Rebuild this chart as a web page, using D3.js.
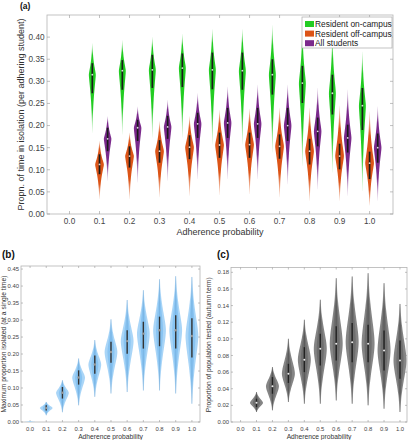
<!DOCTYPE html>
<html><head><meta charset="utf-8">
<script src="https://cdn.jsdelivr.net/npm/d3@7/dist/d3.min.js"></script>
<style>
body{margin:0;background:#fff}
svg{display:block}
text{font-family:"Liberation Sans",Arial,Helvetica,sans-serif}
</style>
</head><body>
<svg id="chart" width="410" height="440"></svg>
<script>
// ---------- DATA ----------
const adherence = [0.1,0.2,0.3,0.4,0.5,0.6,0.7,0.8,0.9,1.0];
const xTickValues = [0,0.1,0.2,0.3,0.4,0.5,0.6,0.7,0.8,0.9,1.0];
const yTicksA = [0,0.05,0.10,0.15,0.20,0.25,0.30,0.35,0.40];
const yTicksB = [0,0.05,0.10,0.15,0.20,0.25,0.30,0.35,0.40,0.45];
const yTicksC = [0,0.02,0.04,0.06,0.08,0.10,0.12,0.14,0.16,0.18];
const seriesNamesA = ["Resident on-campus","Resident off-campus","All students"];

// (a) Resident on-campus
const onMin = [0.184,0.180,0.173,0.173,0.157,0.157,0.139,0.109,0.094,0.052];
const onQ1  = [0.273,0.281,0.285,0.287,0.282,0.281,0.270,0.251,0.225,0.190];
const onMed = [0.315,0.324,0.326,0.330,0.326,0.324,0.315,0.296,0.273,0.245];
const onQ3  = [0.341,0.348,0.360,0.363,0.365,0.365,0.350,0.335,0.315,0.285];
const onMax = [0.386,0.393,0.400,0.407,0.418,0.418,0.427,0.418,0.405,0.367];
// (a) Resident off-campus
const offMin = [0.034,0.034,0.038,0.041,0.043,0.045,0.038,0.030,0.030,0.019];
const offQ1  = [0.090,0.105,0.116,0.124,0.127,0.127,0.125,0.112,0.101,0.079];
const offMed = [0.112,0.131,0.142,0.151,0.156,0.157,0.153,0.142,0.131,0.115];
const offQ3  = [0.135,0.153,0.167,0.178,0.184,0.184,0.180,0.170,0.159,0.141];
const offMax = [0.165,0.184,0.210,0.221,0.235,0.238,0.240,0.240,0.245,0.232];
// (a) All students
const allMin = [0.075,0.071,0.075,0.079,0.079,0.079,0.067,0.056,0.041,0.030];
const allQ1  = [0.142,0.165,0.170,0.172,0.172,0.172,0.165,0.153,0.139,0.116];
const allMed = [0.170,0.195,0.197,0.204,0.206,0.204,0.200,0.187,0.172,0.150];
const allQ3  = [0.195,0.213,0.222,0.229,0.240,0.240,0.240,0.218,0.202,0.182];
const allMax = [0.221,0.243,0.258,0.273,0.288,0.292,0.292,0.285,0.281,0.243];

// (b) Maximum proportion isolated (adherence 0.0 .. 1.0)
const adherenceB = [0.0,0.1,0.2,0.3,0.4,0.5,0.6,0.7,0.8,0.9,1.0];
const maxIsoMin = [0.000,0.020,0.029,0.049,0.074,0.084,0.088,0.093,0.093,0.084,0.054];
const maxIsoQ1  = [0.000,0.034,0.069,0.110,0.142,0.174,0.201,0.216,0.223,0.216,0.190];
const maxIsoMed = [0.001,0.041,0.086,0.131,0.169,0.206,0.238,0.260,0.270,0.270,0.253];
const maxIsoQ3  = [0.002,0.049,0.103,0.152,0.196,0.236,0.270,0.295,0.310,0.314,0.305];
const maxIsoMax = [0.003,0.059,0.123,0.187,0.241,0.302,0.359,0.388,0.420,0.429,0.427];

// (c) Proportion of population tested
const testMin = [0.012,0.014,0.024,0.022,0.022,0.026,0.022,0.020,0.016,0.012];
const testQ1  = [0.018,0.034,0.047,0.060,0.068,0.074,0.072,0.072,0.062,0.052];
const testMed = [0.023,0.043,0.058,0.075,0.088,0.094,0.096,0.094,0.086,0.074];
const testQ3  = [0.028,0.054,0.070,0.090,0.106,0.115,0.119,0.117,0.110,0.098];
const testMax = [0.036,0.066,0.100,0.123,0.147,0.173,0.175,0.179,0.167,0.142];

// ---------- DRAWING ----------
const svg = d3.select("#chart");
const defs = svg.append("defs");
let gradId = 0;

function fadeGradient(color, lo, q1, q3, hi, endOp){
  const id = "g" + (gradId++);
  const span = hi - lo || 1;
  const fTop = Math.max(0.02, (hi - q3) / span * 0.6);
  const fBot = Math.min(0.98, 1 - (q1 - lo) / span * 0.6);
  const g = defs.append("linearGradient").attr("id", id)
    .attr("x1",0).attr("y1",0).attr("x2",0).attr("y2",1);
  [[0,endOp],[fTop,1],[fBot,1],[1,endOp]].forEach(([o,op]) =>
    g.append("stop").attr("offset",o).attr("stop-color",color).attr("stop-opacity",op));
  return "url(#" + id + ")";
}

// width profile of a violin between its extremes, peaking at the median
function violinProfile(lo, med, hi, power, k){
  const n = 60, pts = [];
  const sL = Math.max(1e-6,(med-lo)/2.3), sH = Math.max(1e-6,(hi-med)/2.3);
  for(let i=0;i<=n;i++){
    const v = lo + (hi-lo)*i/n;
    const s = v < med ? sL : sH;
    const z = Math.abs((v-med)/s);
    pts.push([v, Math.exp(-k*Math.pow(z,power))]);
  }
  return pts;
}

function drawViolin(g, x, y, cx, lo, q1, med, q3, hi, W, fill, opt){
  const prof = violinProfile(lo, med, hi, opt.power || 2, opt.k || 0.5);
  const area = d3.area().curve(d3.curveBasis)
    .y(d => y(d[0])).x0(d => cx - W*d[1]).x1(d => cx + W*d[1]);
  g.append("path").attr("d", area(prof)).attr("fill", fill);
  if(opt.inner){
    const area2 = d3.area().curve(d3.curveBasis)
      .y(d => y(d[0])).x0(d => cx - W*opt.innerScale*d[1]).x1(d => cx + W*opt.innerScale*d[1]);
    g.append("path").attr("d", area2(prof)).attr("fill", opt.inner);
  }
  if(opt.whisker){
    g.append("line").attr("x1",cx).attr("x2",cx).attr("y1",y(lo)).attr("y2",y(hi))
      .attr("stroke",opt.whisker).attr("stroke-width",0.6);
  }
  g.append("line").attr("x1",cx).attr("x2",cx).attr("y1",y(q1)).attr("y2",y(q3))
    .attr("stroke",opt.barColor).attr("stroke-width",opt.barW);
  g.append("circle").attr("cx",cx).attr("cy",y(med)).attr("r",opt.dotR).attr("fill",opt.dotColor);
}

function drawFrame(p, x, y, yTicks, yFmt, tickLen, fontTick){
  const g = svg.append("g");
  const [x0,x1] = x.range(), [y0,y1] = y.range();
  g.append("rect").attr("x",x0).attr("y",y1).attr("width",x1-x0).attr("height",y0-y1)
    .attr("fill","none").attr("stroke","#b4b4b4").attr("stroke-width",0.8);
  xTickValues.forEach(t => {
    const px = x(t);
    g.append("line").attr("x1",px).attr("x2",px).attr("y1",y0).attr("y2",y0-tickLen).attr("stroke","#999").attr("stroke-width",0.6);
    g.append("line").attr("x1",px).attr("x2",px).attr("y1",y1).attr("y2",y1+tickLen).attr("stroke","#999").attr("stroke-width",0.6);
    g.append("text").attr("x",px).attr("y",y0 + p.xTickDy).attr("text-anchor","middle")
      .attr("font-size",fontTick).attr("fill","#444").text(d3.format(".1f")(t));
  });
  yTicks.forEach(t => {
    const py = y(t);
    g.append("line").attr("x1",x0).attr("x2",x0+tickLen).attr("y1",py).attr("y2",py).attr("stroke","#999").attr("stroke-width",0.6);
    g.append("line").attr("x1",x1).attr("x2",x1-tickLen).attr("y1",py).attr("y2",py).attr("stroke","#999").attr("stroke-width",0.6);
    g.append("text").attr("x",x0 - p.yTickDx).attr("y",py).attr("dy","0.35em").attr("text-anchor","end")
      .attr("font-size",fontTick).attr("fill","#444").text(d3.format(yFmt)(t));
  });
  g.append("text").attr("x",(x0+x1)/2).attr("y",y0 + p.xTitleDy).attr("text-anchor","middle")
    .attr("font-size",p.titleSize).attr("fill","#333").text("Adherence probability");
  g.append("text").attr("transform",`translate(${p.yTitleX},${(y0+y1)/2}) rotate(-90)`)
    .attr("text-anchor","middle").attr("font-size",p.titleSize).attr("fill","#333").text(p.yTitle);
  svg.append("text").attr("x",p.labelX).attr("y",p.labelY).attr("font-family","'Liberation Serif','Times New Roman',serif")
    .attr("font-weight","bold").attr("font-size",p.labelSize).attr("fill","#111").text(p.label);
}

// ---- Panel (a) ----
const xA = d3.scaleLinear().domain([-0.075,1.078]).range([47,393]);
const yA = d3.scaleLinear().domain([0,0.45]).range([214,15]);
drawFrame({xTickDy:9.5,xTitleDy:21,yTickDx:2.5,titleSize:9,yTitleX:24,
  yTitle:"Propn. of time in isolation (per adhering student)",label:"(a)",labelX:20,labelY:9,labelSize:8.5},
  xA, yA, yTicksA, ".2f", 3, 8.2);
const gA = svg.append("g");
const colOn = "#22cc22", colOff = "#dc5417", colAll = "#7b2a8c";
const seriesA = [
  {min:onMin,q1:onQ1,med:onMed,q3:onQ3,max:onMax,color:colOn,off:-0.024,W:3.5},
  {min:offMin,q1:offQ1,med:offMed,q3:offQ3,max:offMax,color:colOff,off:0.0,W:4.4},
  {min:allMin,q1:allQ1,med:allMed,q3:allQ3,max:allMax,color:colAll,off:0.027,W:3.8}
];
seriesA.forEach(s => {
  adherence.forEach((a,i) => {
    const fill = fadeGradient(s.color, s.min[i], s.q1[i], s.q3[i], s.max[i], 0.1);
    drawViolin(gA, xA, yA, xA(a + s.off), s.min[i], s.q1[i], s.med[i], s.q3[i], s.max[i], s.W, fill,
      {barColor:"#1a1a1a", barW:1.7, dotR:0.9, dotColor:"#ddd", power:1.3, k:0.95});
  });
});
// legend
const leg = svg.append("g");
leg.append("rect").attr("x",302).attr("y",17).attr("width",90).attr("height",31)
  .attr("fill","#fff").attr("stroke","#aaa").attr("stroke-width",0.7);
[colOn,colOff,colAll].forEach((c,i) => {
  const yy = 24 + i*9.6;
  leg.append("rect").attr("x",305).attr("y",yy-3).attr("width",9).attr("height",6).attr("fill",c);
  leg.append("text").attr("x",315).attr("y",yy).attr("dy","0.35em").attr("font-size",8.4)
    .attr("fill","#222").text(seriesNamesA[i]);
});

// ---- Panel (b) ----
const xB = d3.scaleLinear().domain([-0.056,1.05]).range([21,200]);
const yB = d3.scaleLinear().domain([0,0.459]).range([422,266]);
drawFrame({xTickDy:8.5,xTitleDy:16.5,yTickDx:2,titleSize:6.7,yTitleX:5.5,
  yTitle:"Maximum proportion isolated (at a single time)",label:"(b)",labelX:2,labelY:258,labelSize:10},
  xB, yB, yTicksB, ".2f", 2, 5.9);
const gB = svg.append("g");
adherenceB.forEach((a,i) => {
  const fill = fadeGradient("#a9d5f7", maxIsoMin[i], maxIsoQ1[i], maxIsoQ3[i], maxIsoMax[i], 0.35);
  drawViolin(gB, xB, yB, xB(a), maxIsoMin[i], maxIsoQ1[i], maxIsoMed[i], maxIsoQ3[i], maxIsoMax[i],
    i===0 ? 5 : 6.4, fill,
    {inner: i===0 ? null : "rgba(110,182,238,0.55)", innerScale:0.55, whisker: i===0?null:"rgba(70,120,170,0.35)",
     barColor: i===0 ? "none" : "#333", barW:1.4, dotR: i===0?0:1.2, dotColor:"#999", power:1.6, k:0.7});
});

// ---- Panel (c) ----
const xC = d3.scaleLinear().domain([-0.06,1.044]).range([231,407]);
const yC = d3.scaleLinear().domain([0,0.1858]).range([422,267.5]);
drawFrame({xTickDy:8.5,xTitleDy:16.5,yTickDx:2,titleSize:6.7,yTitleX:210.5,
  yTitle:"Proportion of population tested (autumn term)",label:"(c)",labelX:217,labelY:258,labelSize:10},
  xC, yC, yTicksC, ".2f", 2, 5.9);
const gC = svg.append("g");
adherence.forEach((a,i) => {
  const fill = fadeGradient("#858585", testMin[i], testQ1[i], testQ3[i], testMax[i], 0.3);
  drawViolin(gC, xC, yC, xC(a), testMin[i], testQ1[i], testMed[i], testQ3[i], testMax[i], 6.5, fill,
    {inner:"rgba(95,95,95,0.6)", innerScale:0.55, whisker:"rgba(40,40,40,0.5)",
     barColor:"#222", barW:1.4, dotR:1.0, dotColor:"#eee", power:1.7, k:0.65});
});
</script>
</body></html>
